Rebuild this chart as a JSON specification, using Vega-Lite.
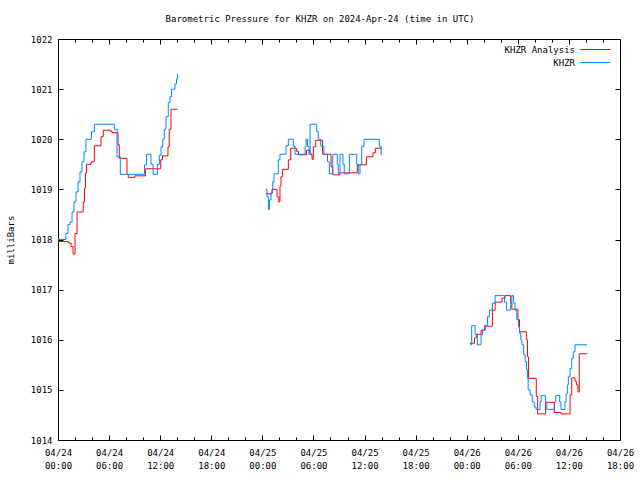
{
  "$schema": "https://vega.github.io/schema/vega-lite/v6.json",
  "width": 562,
  "height": 401,
  "autosize": {"type": "none"},
  "padding": {"left": 58, "top": 39, "right": 20, "bottom": 40},
  "background": "white",
  "config": {
    "font": "DejaVu Sans Mono",
    "view": {"stroke": "black", "strokeWidth": 1},
    "axis": {"domain": false, "grid": false, "labelFont": "DejaVu Sans Mono", "labelFontSize": 9, "labelColor": "black", "tickColor": "black", "tickWidth": 1, "titleFont": "DejaVu Sans Mono", "titleFontSize": 9, "titleFontWeight": "normal", "titleColor": "black"}
  },
  "title": {"text": "Barometric Pressure for KHZR on 2024-Apr-24 (time in UTC)", "font": "DejaVu Sans Mono", "fontSize": 9, "fontWeight": "normal", "color": "black", "anchor": "middle", "dx": -19, "offset": 11},
  "datasets": {
    "obs": [
      {"series": "KHZR Analysis", "segment": 1, "time": "2024-04-24T00:00:00Z", "pressure": 1017.96},
      {"series": "KHZR Analysis", "segment": 1, "time": "2024-04-24T01:13:00Z", "pressure": 1017.93},
      {"series": "KHZR Analysis", "segment": 1, "time": "2024-04-24T01:32:00Z", "pressure": 1017.86},
      {"series": "KHZR Analysis", "segment": 1, "time": "2024-04-24T01:46:00Z", "pressure": 1017.71},
      {"series": "KHZR Analysis", "segment": 1, "time": "2024-04-24T02:00:00Z", "pressure": 1018.12},
      {"series": "KHZR Analysis", "segment": 1, "time": "2024-04-24T02:14:00Z", "pressure": 1018.55},
      {"series": "KHZR Analysis", "segment": 1, "time": "2024-04-24T02:58:00Z", "pressure": 1018.75},
      {"series": "KHZR Analysis", "segment": 1, "time": "2024-04-24T03:07:00Z", "pressure": 1019.03},
      {"series": "KHZR Analysis", "segment": 1, "time": "2024-04-24T03:14:00Z", "pressure": 1019.33},
      {"series": "KHZR Analysis", "segment": 1, "time": "2024-04-24T03:21:00Z", "pressure": 1019.5},
      {"series": "KHZR Analysis", "segment": 1, "time": "2024-04-24T03:53:00Z", "pressure": 1019.55},
      {"series": "KHZR Analysis", "segment": 1, "time": "2024-04-24T04:16:00Z", "pressure": 1019.87},
      {"series": "KHZR Analysis", "segment": 1, "time": "2024-04-24T05:03:00Z", "pressure": 1020.05},
      {"series": "KHZR Analysis", "segment": 1, "time": "2024-04-24T05:19:00Z", "pressure": 1020.18},
      {"series": "KHZR Analysis", "segment": 1, "time": "2024-04-24T06:07:00Z", "pressure": 1020.16},
      {"series": "KHZR Analysis", "segment": 1, "time": "2024-04-24T06:20:00Z", "pressure": 1020.13},
      {"series": "KHZR Analysis", "segment": 1, "time": "2024-04-24T07:03:00Z", "pressure": 1019.89},
      {"series": "KHZR Analysis", "segment": 1, "time": "2024-04-24T07:12:00Z", "pressure": 1019.62},
      {"series": "KHZR Analysis", "segment": 1, "time": "2024-04-24T08:06:00Z", "pressure": 1019.3},
      {"series": "KHZR Analysis", "segment": 1, "time": "2024-04-24T08:15:00Z", "pressure": 1019.24},
      {"series": "KHZR Analysis", "segment": 1, "time": "2024-04-24T09:03:00Z", "pressure": 1019.27},
      {"series": "KHZR Analysis", "segment": 1, "time": "2024-04-24T10:17:00Z", "pressure": 1019.41},
      {"series": "KHZR Analysis", "segment": 1, "time": "2024-04-24T12:04:00Z", "pressure": 1019.59},
      {"series": "KHZR Analysis", "segment": 1, "time": "2024-04-24T12:16:00Z", "pressure": 1019.67},
      {"series": "KHZR Analysis", "segment": 1, "time": "2024-04-24T12:55:00Z", "pressure": 1019.85},
      {"series": "KHZR Analysis", "segment": 1, "time": "2024-04-24T13:04:00Z", "pressure": 1020.2},
      {"series": "KHZR Analysis", "segment": 1, "time": "2024-04-24T13:16:00Z", "pressure": 1020.6},
      {"series": "KHZR Analysis", "segment": 1, "time": "2024-04-24T14:03:00Z", "pressure": 1020.6},
      {"series": "KHZR Analysis", "segment": 2, "time": "2024-04-25T00:23:00Z", "pressure": 1018.91},
      {"series": "KHZR Analysis", "segment": 2, "time": "2024-04-25T01:08:00Z", "pressure": 1019.0},
      {"series": "KHZR Analysis", "segment": 2, "time": "2024-04-25T01:43:00Z", "pressure": 1018.85},
      {"series": "KHZR Analysis", "segment": 2, "time": "2024-04-25T01:56:00Z", "pressure": 1018.75},
      {"series": "KHZR Analysis", "segment": 2, "time": "2024-04-25T02:04:00Z", "pressure": 1019.07},
      {"series": "KHZR Analysis", "segment": 2, "time": "2024-04-25T02:11:00Z", "pressure": 1019.25},
      {"series": "KHZR Analysis", "segment": 2, "time": "2024-04-25T02:23:00Z", "pressure": 1019.4},
      {"series": "KHZR Analysis", "segment": 2, "time": "2024-04-25T03:03:00Z", "pressure": 1019.59},
      {"series": "KHZR Analysis", "segment": 2, "time": "2024-04-25T03:20:00Z", "pressure": 1019.82},
      {"series": "KHZR Analysis", "segment": 2, "time": "2024-04-25T04:01:00Z", "pressure": 1019.76},
      {"series": "KHZR Analysis", "segment": 2, "time": "2024-04-25T04:14:00Z", "pressure": 1019.69},
      {"series": "KHZR Analysis", "segment": 2, "time": "2024-04-25T05:11:00Z", "pressure": 1019.78},
      {"series": "KHZR Analysis", "segment": 2, "time": "2024-04-25T05:36:00Z", "pressure": 1019.7},
      {"series": "KHZR Analysis", "segment": 2, "time": "2024-04-25T05:50:00Z", "pressure": 1019.6},
      {"series": "KHZR Analysis", "segment": 2, "time": "2024-04-25T05:59:00Z", "pressure": 1019.85},
      {"series": "KHZR Analysis", "segment": 2, "time": "2024-04-25T06:16:00Z", "pressure": 1019.98},
      {"series": "KHZR Analysis", "segment": 2, "time": "2024-04-25T07:04:00Z", "pressure": 1019.7},
      {"series": "KHZR Analysis", "segment": 2, "time": "2024-04-25T08:04:00Z", "pressure": 1019.45},
      {"series": "KHZR Analysis", "segment": 2, "time": "2024-04-25T08:16:00Z", "pressure": 1019.29},
      {"series": "KHZR Analysis", "segment": 2, "time": "2024-04-25T09:05:00Z", "pressure": 1019.33},
      {"series": "KHZR Analysis", "segment": 2, "time": "2024-04-25T11:09:00Z", "pressure": 1019.49},
      {"series": "KHZR Analysis", "segment": 2, "time": "2024-04-25T12:13:00Z", "pressure": 1019.65},
      {"series": "KHZR Analysis", "segment": 2, "time": "2024-04-25T12:59:00Z", "pressure": 1019.73},
      {"series": "KHZR Analysis", "segment": 2, "time": "2024-04-25T13:16:00Z", "pressure": 1019.82},
      {"series": "KHZR Analysis", "segment": 2, "time": "2024-04-25T14:03:00Z", "pressure": 1019.82},
      {"series": "KHZR Analysis", "segment": 3, "time": "2024-04-26T00:23:00Z", "pressure": 1015.93},
      {"series": "KHZR Analysis", "segment": 3, "time": "2024-04-26T00:55:00Z", "pressure": 1016.04},
      {"series": "KHZR Analysis", "segment": 3, "time": "2024-04-26T01:10:00Z", "pressure": 1016.11},
      {"series": "KHZR Analysis", "segment": 3, "time": "2024-04-26T01:41:00Z", "pressure": 1016.19},
      {"series": "KHZR Analysis", "segment": 3, "time": "2024-04-26T02:10:00Z", "pressure": 1016.27},
      {"series": "KHZR Analysis", "segment": 3, "time": "2024-04-26T03:01:00Z", "pressure": 1016.59},
      {"series": "KHZR Analysis", "segment": 3, "time": "2024-04-26T03:20:00Z", "pressure": 1016.75},
      {"series": "KHZR Analysis", "segment": 3, "time": "2024-04-26T04:08:00Z", "pressure": 1016.83},
      {"series": "KHZR Analysis", "segment": 3, "time": "2024-04-26T04:30:00Z", "pressure": 1016.88},
      {"series": "KHZR Analysis", "segment": 3, "time": "2024-04-26T05:10:00Z", "pressure": 1016.73},
      {"series": "KHZR Analysis", "segment": 3, "time": "2024-04-26T05:18:00Z", "pressure": 1016.61},
      {"series": "KHZR Analysis", "segment": 3, "time": "2024-04-26T06:01:00Z", "pressure": 1016.4},
      {"series": "KHZR Analysis", "segment": 3, "time": "2024-04-26T06:12:00Z", "pressure": 1016.16},
      {"series": "KHZR Analysis", "segment": 3, "time": "2024-04-26T07:00:00Z", "pressure": 1016.0},
      {"series": "KHZR Analysis", "segment": 3, "time": "2024-04-26T07:08:00Z", "pressure": 1015.66},
      {"series": "KHZR Analysis", "segment": 3, "time": "2024-04-26T07:15:00Z", "pressure": 1015.23},
      {"series": "KHZR Analysis", "segment": 3, "time": "2024-04-26T08:10:00Z", "pressure": 1014.87},
      {"series": "KHZR Analysis", "segment": 3, "time": "2024-04-26T08:20:00Z", "pressure": 1014.52},
      {"series": "KHZR Analysis", "segment": 3, "time": "2024-04-26T09:16:00Z", "pressure": 1014.75},
      {"series": "KHZR Analysis", "segment": 3, "time": "2024-04-26T10:17:00Z", "pressure": 1014.55},
      {"series": "KHZR Analysis", "segment": 3, "time": "2024-04-26T11:04:00Z", "pressure": 1014.52},
      {"series": "KHZR Analysis", "segment": 3, "time": "2024-04-26T12:08:00Z", "pressure": 1014.9},
      {"series": "KHZR Analysis", "segment": 3, "time": "2024-04-26T12:20:00Z", "pressure": 1015.24},
      {"series": "KHZR Analysis", "segment": 3, "time": "2024-04-26T12:43:00Z", "pressure": 1015.17},
      {"series": "KHZR Analysis", "segment": 3, "time": "2024-04-26T12:53:00Z", "pressure": 1015.1},
      {"series": "KHZR Analysis", "segment": 3, "time": "2024-04-26T13:04:00Z", "pressure": 1014.96},
      {"series": "KHZR Analysis", "segment": 3, "time": "2024-04-26T13:13:00Z", "pressure": 1015.72},
      {"series": "KHZR Analysis", "segment": 3, "time": "2024-04-26T14:08:00Z", "pressure": 1015.72},
      {"series": "KHZR", "segment": 1, "time": "2024-04-24T00:00:00Z", "pressure": 1018.0},
      {"series": "KHZR", "segment": 1, "time": "2024-04-24T00:56:00Z", "pressure": 1018.12},
      {"series": "KHZR", "segment": 1, "time": "2024-04-24T01:10:00Z", "pressure": 1018.3},
      {"series": "KHZR", "segment": 1, "time": "2024-04-24T01:25:00Z", "pressure": 1018.35},
      {"series": "KHZR", "segment": 1, "time": "2024-04-24T01:39:00Z", "pressure": 1018.55},
      {"series": "KHZR", "segment": 1, "time": "2024-04-24T01:53:00Z", "pressure": 1018.75},
      {"series": "KHZR", "segment": 1, "time": "2024-04-24T02:07:00Z", "pressure": 1018.95},
      {"series": "KHZR", "segment": 1, "time": "2024-04-24T02:21:00Z", "pressure": 1019.15},
      {"series": "KHZR", "segment": 1, "time": "2024-04-24T02:35:00Z", "pressure": 1019.35},
      {"series": "KHZR", "segment": 1, "time": "2024-04-24T02:49:00Z", "pressure": 1019.55},
      {"series": "KHZR", "segment": 1, "time": "2024-04-24T03:03:00Z", "pressure": 1019.75},
      {"series": "KHZR", "segment": 1, "time": "2024-04-24T03:17:00Z", "pressure": 1020.0},
      {"series": "KHZR", "segment": 1, "time": "2024-04-24T03:56:00Z", "pressure": 1020.15},
      {"series": "KHZR", "segment": 1, "time": "2024-04-24T04:16:00Z", "pressure": 1020.3},
      {"series": "KHZR", "segment": 1, "time": "2024-04-24T06:37:00Z", "pressure": 1020.2},
      {"series": "KHZR", "segment": 1, "time": "2024-04-24T06:56:00Z", "pressure": 1019.65},
      {"series": "KHZR", "segment": 1, "time": "2024-04-24T07:19:00Z", "pressure": 1019.3},
      {"series": "KHZR", "segment": 1, "time": "2024-04-24T10:10:00Z", "pressure": 1019.49},
      {"series": "KHZR", "segment": 1, "time": "2024-04-24T10:24:00Z", "pressure": 1019.7},
      {"series": "KHZR", "segment": 1, "time": "2024-04-24T10:55:00Z", "pressure": 1019.5},
      {"series": "KHZR", "segment": 1, "time": "2024-04-24T11:10:00Z", "pressure": 1019.3},
      {"series": "KHZR", "segment": 1, "time": "2024-04-24T11:40:00Z", "pressure": 1019.5},
      {"series": "KHZR", "segment": 1, "time": "2024-04-24T11:54:00Z", "pressure": 1019.68},
      {"series": "KHZR", "segment": 1, "time": "2024-04-24T12:06:00Z", "pressure": 1019.85},
      {"series": "KHZR", "segment": 1, "time": "2024-04-24T12:18:00Z", "pressure": 1020.0},
      {"series": "KHZR", "segment": 1, "time": "2024-04-24T12:29:00Z", "pressure": 1020.2},
      {"series": "KHZR", "segment": 1, "time": "2024-04-24T12:41:00Z", "pressure": 1020.45},
      {"series": "KHZR", "segment": 1, "time": "2024-04-24T12:57:00Z", "pressure": 1020.73},
      {"series": "KHZR", "segment": 1, "time": "2024-04-24T13:09:00Z", "pressure": 1020.85},
      {"series": "KHZR", "segment": 1, "time": "2024-04-24T13:21:00Z", "pressure": 1021.0},
      {"series": "KHZR", "segment": 1, "time": "2024-04-24T13:44:00Z", "pressure": 1021.1},
      {"series": "KHZR", "segment": 1, "time": "2024-04-24T13:55:00Z", "pressure": 1021.2},
      {"series": "KHZR", "segment": 1, "time": "2024-04-24T14:03:00Z", "pressure": 1021.3},
      {"series": "KHZR", "segment": 2, "time": "2024-04-25T00:23:00Z", "pressure": 1019.0},
      {"series": "KHZR", "segment": 2, "time": "2024-04-25T00:33:00Z", "pressure": 1018.85},
      {"series": "KHZR", "segment": 2, "time": "2024-04-25T00:42:00Z", "pressure": 1018.6},
      {"series": "KHZR", "segment": 2, "time": "2024-04-25T00:50:00Z", "pressure": 1018.79},
      {"series": "KHZR", "segment": 2, "time": "2024-04-25T01:01:00Z", "pressure": 1018.93},
      {"series": "KHZR", "segment": 2, "time": "2024-04-25T01:13:00Z", "pressure": 1019.15},
      {"series": "KHZR", "segment": 2, "time": "2024-04-25T01:22:00Z", "pressure": 1019.31},
      {"series": "KHZR", "segment": 2, "time": "2024-04-25T01:52:00Z", "pressure": 1019.59},
      {"series": "KHZR", "segment": 2, "time": "2024-04-25T02:04:00Z", "pressure": 1019.7},
      {"series": "KHZR", "segment": 2, "time": "2024-04-25T02:47:00Z", "pressure": 1019.87},
      {"series": "KHZR", "segment": 2, "time": "2024-04-25T03:03:00Z", "pressure": 1020.0},
      {"series": "KHZR", "segment": 2, "time": "2024-04-25T03:38:00Z", "pressure": 1019.86},
      {"series": "KHZR", "segment": 2, "time": "2024-04-25T03:50:00Z", "pressure": 1019.7},
      {"series": "KHZR", "segment": 2, "time": "2024-04-25T05:01:00Z", "pressure": 1019.86},
      {"series": "KHZR", "segment": 2, "time": "2024-04-25T05:08:00Z", "pressure": 1020.0},
      {"series": "KHZR", "segment": 2, "time": "2024-04-25T05:18:00Z", "pressure": 1019.86},
      {"series": "KHZR", "segment": 2, "time": "2024-04-25T05:29:00Z", "pressure": 1019.7},
      {"series": "KHZR", "segment": 2, "time": "2024-04-25T05:36:00Z", "pressure": 1020.3},
      {"series": "KHZR", "segment": 2, "time": "2024-04-25T06:23:00Z", "pressure": 1020.15},
      {"series": "KHZR", "segment": 2, "time": "2024-04-25T06:34:00Z", "pressure": 1020.0},
      {"series": "KHZR", "segment": 2, "time": "2024-04-25T06:51:00Z", "pressure": 1019.86},
      {"series": "KHZR", "segment": 2, "time": "2024-04-25T07:14:00Z", "pressure": 1019.7},
      {"series": "KHZR", "segment": 2, "time": "2024-04-25T07:39:00Z", "pressure": 1019.55},
      {"series": "KHZR", "segment": 2, "time": "2024-04-25T07:52:00Z", "pressure": 1019.31},
      {"series": "KHZR", "segment": 2, "time": "2024-04-25T08:16:00Z", "pressure": 1019.7},
      {"series": "KHZR", "segment": 2, "time": "2024-04-25T08:48:00Z", "pressure": 1019.5},
      {"series": "KHZR", "segment": 2, "time": "2024-04-25T08:55:00Z", "pressure": 1019.31},
      {"series": "KHZR", "segment": 2, "time": "2024-04-25T09:07:00Z", "pressure": 1019.7},
      {"series": "KHZR", "segment": 2, "time": "2024-04-25T09:28:00Z", "pressure": 1019.5},
      {"series": "KHZR", "segment": 2, "time": "2024-04-25T09:37:00Z", "pressure": 1019.31},
      {"series": "KHZR", "segment": 2, "time": "2024-04-25T10:13:00Z", "pressure": 1019.7},
      {"series": "KHZR", "segment": 2, "time": "2024-04-25T11:05:00Z", "pressure": 1019.5},
      {"series": "KHZR", "segment": 2, "time": "2024-04-25T11:16:00Z", "pressure": 1019.31},
      {"series": "KHZR", "segment": 2, "time": "2024-04-25T11:28:00Z", "pressure": 1019.5},
      {"series": "KHZR", "segment": 2, "time": "2024-04-25T11:40:00Z", "pressure": 1019.86},
      {"series": "KHZR", "segment": 2, "time": "2024-04-25T11:56:00Z", "pressure": 1020.0},
      {"series": "KHZR", "segment": 2, "time": "2024-04-25T13:44:00Z", "pressure": 1019.86},
      {"series": "KHZR", "segment": 2, "time": "2024-04-25T13:56:00Z", "pressure": 1019.7},
      {"series": "KHZR", "segment": 2, "time": "2024-04-25T14:03:00Z", "pressure": 1019.7},
      {"series": "KHZR", "segment": 3, "time": "2024-04-26T00:23:00Z", "pressure": 1015.9},
      {"series": "KHZR", "segment": 3, "time": "2024-04-26T00:35:00Z", "pressure": 1016.28},
      {"series": "KHZR", "segment": 3, "time": "2024-04-26T00:59:00Z", "pressure": 1016.1},
      {"series": "KHZR", "segment": 3, "time": "2024-04-26T01:15:00Z", "pressure": 1015.9},
      {"series": "KHZR", "segment": 3, "time": "2024-04-26T01:41:00Z", "pressure": 1016.1},
      {"series": "KHZR", "segment": 3, "time": "2024-04-26T01:52:00Z", "pressure": 1016.19},
      {"series": "KHZR", "segment": 3, "time": "2024-04-26T02:05:00Z", "pressure": 1016.29},
      {"series": "KHZR", "segment": 3, "time": "2024-04-26T02:26:00Z", "pressure": 1016.46},
      {"series": "KHZR", "segment": 3, "time": "2024-04-26T02:40:00Z", "pressure": 1016.59},
      {"series": "KHZR", "segment": 3, "time": "2024-04-26T03:01:00Z", "pressure": 1016.73},
      {"series": "KHZR", "segment": 3, "time": "2024-04-26T03:20:00Z", "pressure": 1016.88},
      {"series": "KHZR", "segment": 3, "time": "2024-04-26T04:27:00Z", "pressure": 1016.75},
      {"series": "KHZR", "segment": 3, "time": "2024-04-26T04:41:00Z", "pressure": 1016.59},
      {"series": "KHZR", "segment": 3, "time": "2024-04-26T05:10:00Z", "pressure": 1016.75},
      {"series": "KHZR", "segment": 3, "time": "2024-04-26T05:18:00Z", "pressure": 1016.88},
      {"series": "KHZR", "segment": 3, "time": "2024-04-26T05:29:00Z", "pressure": 1016.73},
      {"series": "KHZR", "segment": 3, "time": "2024-04-26T05:41:00Z", "pressure": 1016.59},
      {"series": "KHZR", "segment": 3, "time": "2024-04-26T05:53:00Z", "pressure": 1016.4},
      {"series": "KHZR", "segment": 3, "time": "2024-04-26T06:05:00Z", "pressure": 1016.26},
      {"series": "KHZR", "segment": 3, "time": "2024-04-26T06:12:00Z", "pressure": 1016.13},
      {"series": "KHZR", "segment": 3, "time": "2024-04-26T06:21:00Z", "pressure": 1016.0},
      {"series": "KHZR", "segment": 3, "time": "2024-04-26T06:29:00Z", "pressure": 1015.9},
      {"series": "KHZR", "segment": 3, "time": "2024-04-26T06:41:00Z", "pressure": 1015.7},
      {"series": "KHZR", "segment": 3, "time": "2024-04-26T06:52:00Z", "pressure": 1015.56},
      {"series": "KHZR", "segment": 3, "time": "2024-04-26T07:02:00Z", "pressure": 1015.4},
      {"series": "KHZR", "segment": 3, "time": "2024-04-26T07:08:00Z", "pressure": 1015.23},
      {"series": "KHZR", "segment": 3, "time": "2024-04-26T07:13:00Z", "pressure": 1015.0},
      {"series": "KHZR", "segment": 3, "time": "2024-04-26T07:27:00Z", "pressure": 1014.9},
      {"series": "KHZR", "segment": 3, "time": "2024-04-26T07:42:00Z", "pressure": 1014.76},
      {"series": "KHZR", "segment": 3, "time": "2024-04-26T07:56:00Z", "pressure": 1014.66},
      {"series": "KHZR", "segment": 3, "time": "2024-04-26T08:08:00Z", "pressure": 1014.61},
      {"series": "KHZR", "segment": 3, "time": "2024-04-26T08:37:00Z", "pressure": 1014.76},
      {"series": "KHZR", "segment": 3, "time": "2024-04-26T08:44:00Z", "pressure": 1014.89},
      {"series": "KHZR", "segment": 3, "time": "2024-04-26T09:14:00Z", "pressure": 1014.76},
      {"series": "KHZR", "segment": 3, "time": "2024-04-26T09:24:00Z", "pressure": 1014.61},
      {"series": "KHZR", "segment": 3, "time": "2024-04-26T10:17:00Z", "pressure": 1014.76},
      {"series": "KHZR", "segment": 3, "time": "2024-04-26T10:27:00Z", "pressure": 1014.89},
      {"series": "KHZR", "segment": 3, "time": "2024-04-26T10:55:00Z", "pressure": 1014.76},
      {"series": "KHZR", "segment": 3, "time": "2024-04-26T11:04:00Z", "pressure": 1014.61},
      {"series": "KHZR", "segment": 3, "time": "2024-04-26T11:32:00Z", "pressure": 1014.76},
      {"series": "KHZR", "segment": 3, "time": "2024-04-26T11:40:00Z", "pressure": 1014.92},
      {"series": "KHZR", "segment": 3, "time": "2024-04-26T11:49:00Z", "pressure": 1015.1},
      {"series": "KHZR", "segment": 3, "time": "2024-04-26T11:56:00Z", "pressure": 1015.26},
      {"series": "KHZR", "segment": 3, "time": "2024-04-26T12:08:00Z", "pressure": 1015.43},
      {"series": "KHZR", "segment": 3, "time": "2024-04-26T12:20:00Z", "pressure": 1015.63},
      {"series": "KHZR", "segment": 3, "time": "2024-04-26T12:31:00Z", "pressure": 1015.76},
      {"series": "KHZR", "segment": 3, "time": "2024-04-26T12:43:00Z", "pressure": 1015.9},
      {"series": "KHZR", "segment": 3, "time": "2024-04-26T14:08:00Z", "pressure": 1015.9}
    ]
  },
  "data": {"name": "obs"},
  "resolve": {"axis": {"x": "independent", "y": "independent"}},
  "layer": [
    {
      "mark": {"type": "line", "interpolate": "step-after", "strokeWidth": 1},
      "encoding": {
        "x": {
          "field": "time", "type": "temporal",
          "scale": {"type": "utc", "domain": [1713916800000, 1714154400000], "nice": false},
          "axis": {"orient": "bottom", "title": null, "values": [1713916800000, 1713938400000, 1713960000000, 1713981600000, 1714003200000, 1714024800000, 1714046400000, 1714068000000, 1714089600000, 1714111200000, 1714132800000, 1714154400000], "tickSize": -5, "labelPadding": 13, "labelLineHeight": 13, "labelAngle": 0, "labelOverlap": false, "labelFlush": false, "labelExpr": "[utcFormat(datum.value, '%m/%d'), utcFormat(datum.value, '%H:%M')]"}
        },
        "y": {
          "field": "pressure", "type": "quantitative",
          "scale": {"domain": [1014, 1022], "nice": false, "zero": false},
          "axis": {"orient": "left", "title": "milliBars", "titlePadding": 15, "values": [1014, 1015, 1016, 1017, 1018, 1019, 1020, 1021, 1022], "tickSize": -5, "labelPadding": 11, "labelOverlap": false, "format": "d"}
        },
        "color": {
          "field": "series", "type": "nominal",
          "scale": {"domain": ["KHZR Analysis", "KHZR"], "range": ["#ff0000", "#0088ff"]},
          "legend": {
            "orient": "none", "legendX": 530, "legendY": 3, "title": null, "padding": 0,
            "symbolType": "M-2.14,0H2.14", "symbolSize": 196, "symbolStrokeWidth": 1, "symbolFillColor": "transparent",
            "labelAlign": "right", "labelOffset": -28, "labelFont": "DejaVu Sans Mono", "labelFontSize": 9, "labelColor": "black", "rowPadding": 0,
            "encode": {"symbols": {"update": {"stroke": {"scale": "color", "field": "value"}, "fill": {"value": "transparent"}, "strokeWidth": {"value": 1}, "opacity": {"value": 1}}}}
          }
        },
        "detail": {"field": "segment", "type": "nominal"}
      }
    },
    {
      "mark": {"type": "point", "opacity": 0},
      "encoding": {
        "x": {"field": "time", "type": "temporal", "axis": {"orient": "top", "title": null, "labels": false, "values": [1713916800000, 1713938400000, 1713960000000, 1713981600000, 1714003200000, 1714024800000, 1714046400000, 1714068000000, 1714089600000, 1714111200000, 1714132800000, 1714154400000], "tickSize": -5}},
        "y": {"field": "pressure", "type": "quantitative", "axis": {"orient": "right", "title": null, "labels": false, "values": [1014, 1015, 1016, 1017, 1018, 1019, 1020, 1021, 1022], "tickSize": -5}}
      }
    },
    {
      "mark": {"type": "point", "opacity": 0},
      "encoding": {
        "x": {"field": "time", "type": "temporal", "axis": {"orient": "bottom", "title": null, "labels": false, "values": [1713916800000, 1713924000000, 1713931200000, 1713938400000, 1713945600000, 1713952800000, 1713960000000, 1713967200000, 1713974400000, 1713981600000, 1713988800000, 1713996000000, 1714003200000, 1714010400000, 1714017600000, 1714024800000, 1714032000000, 1714039200000, 1714046400000, 1714053600000, 1714060800000, 1714068000000, 1714075200000, 1714082400000, 1714089600000, 1714096800000, 1714104000000, 1714111200000, 1714118400000, 1714125600000, 1714132800000, 1714140000000, 1714147200000, 1714154400000], "tickSize": -3}},
        "y": {"field": "pressure", "type": "quantitative", "axis": null}
      }
    },
    {
      "mark": {"type": "point", "opacity": 0},
      "encoding": {
        "x": {"field": "time", "type": "temporal", "axis": {"orient": "top", "title": null, "labels": false, "values": [1713916800000, 1713924000000, 1713931200000, 1713938400000, 1713945600000, 1713952800000, 1713960000000, 1713967200000, 1713974400000, 1713981600000, 1713988800000, 1713996000000, 1714003200000, 1714010400000, 1714017600000, 1714024800000, 1714032000000, 1714039200000, 1714046400000, 1714053600000, 1714060800000, 1714068000000, 1714075200000, 1714082400000, 1714089600000, 1714096800000, 1714104000000, 1714111200000, 1714118400000, 1714125600000, 1714132800000, 1714140000000, 1714147200000, 1714154400000], "tickSize": -3}},
        "y": {"field": "pressure", "type": "quantitative", "axis": null}
      }
    }
  ]
}
